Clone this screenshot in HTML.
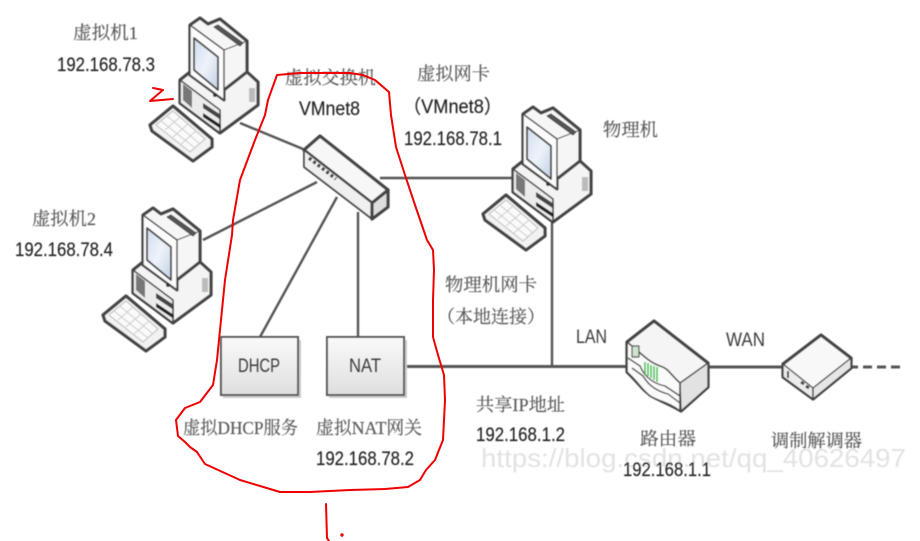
<!DOCTYPE html>
<html>
<head>
<meta charset="utf-8">
<style>
html,body{margin:0;padding:0;background:#fff;width:920px;height:541px;overflow:hidden}
svg{display:block}
.c{font-family:"Liberation Serif","Noto Serif CJK SC",serif;font-size:18px;fill:#5c5c5c;stroke:#5c5c5c;stroke-width:.2}
.n{font-family:"Liberation Sans",sans-serif;font-size:19px;fill:#222;stroke:#222;stroke-width:.15}
.l{font-family:"Liberation Sans",sans-serif;font-size:19px;fill:#3a3a3a}
.w{font-family:"Liberation Sans",sans-serif;font-size:26px;fill:#d8d8d8;opacity:.75}
</style>
</head>
<body>
<svg width="920" height="541" viewBox="0 0 920 541" xmlns="http://www.w3.org/2000/svg">
<defs>
<linearGradient id="box" x1="0" y1="0" x2="0" y2="1"><stop offset="0" stop-color="#fafafa"/><stop offset="1" stop-color="#dedede"/></linearGradient>
<linearGradient id="scr" x1="0" y1="0" x2="1" y2="1"><stop offset="0" stop-color="#cfdcee"/><stop offset=".5" stop-color="#eef3fa"/><stop offset="1" stop-color="#c3d0e6"/></linearGradient>
<filter id="b" x="-5%" y="-5%" width="110%" height="110%"><feGaussianBlur stdDeviation="0.55"/></filter>
<filter id="t" x="-5%" y="-5%" width="110%" height="110%"><feGaussianBlur stdDeviation="0.45"/></filter>
<g id="pc" stroke="#444" stroke-width="3.2" stroke-linejoin="round">
  <path d="M180 80L190 72L247 72L258 82V105L220 133L180 103Z" fill="#f4f4f4"/>
  <path d="M180 80L220 110V133L180 103Z" fill="#ececec" stroke-width="1.6"/>
  <path d="M190 25L200 18L208 24L220 19L247 41V72L224 90V100L190 75Z" fill="#f6f6f6"/>
  <path d="M190 25L224 50V100L190 75Z" fill="#fbfbfb" stroke-width="1.4"/>
  <path d="M224 50L247 41" fill="none" stroke-width="1"/>
  <path d="M194 38L218 57V90L194 70Z" fill="url(#scr)" stroke-width="1.8"/>
  <path d="M214 27L240 46L243 43L218 25Z" fill="#555" stroke-width="1"/>
  <rect x="249" y="88" width="6" height="14" fill="#bbb" stroke="none"/>
  <path d="M183 84L192 91V108L183 100Z" fill="#777" stroke="none"/>
  <path d="M203 103L221 115V120L203 108Z" fill="#444" stroke="none"/>
  <path d="M203 113L221 125V129L203 117Z" fill="#222" stroke="none"/>
  <circle cx="215" cy="95" r="2" fill="#333" stroke="none"/>
  <path d="M150 125L173 106L212 139V147L193 161L152 131Z" fill="#f2f2f2"/>
  <path d="M156 125L173 111L205 139L190 152Z" fill="#fafafa" stroke="#bbb" stroke-width="1"/>
  <path d="M161 121L195 148M167 116L200 144M165 130L180 117M173 137L188 124M181 144L196 131" fill="none" stroke="#ccc" stroke-width="1"/>
</g>
</defs>

<g filter="url(#b)">
  <g stroke="#555" stroke-width="2.4" fill="none">
    <path d="M240 123L303 149"/>
    <path d="M380 178H513"/>
    <path d="M203 240L317 182"/>
    <path d="M260 337L337 197"/>
    <path d="M358 337V212"/>
    <path d="M404 366.500H627" stroke-width="3"/>
    <path d="M552 220V366"/>
    <path d="M708 367H784" stroke-width="3"/>
    <path d="M850 367H858" stroke-width="3"/>
    <path d="M863 367H900" stroke-width="3" stroke-dasharray="9 5"/>
  </g>

  <use href="#pc"/>
  <use href="#pc" x="-47" y="190"/>
  <use href="#pc" x="333" y="89"/>

  <g stroke="#444" stroke-width="3.2" stroke-linejoin="round">
    <path d="M320 136L388 190L372 203L304 150Z" fill="#f7f7f7"/>
    <path d="M304 150L372 203V219L304 167Z" fill="#f0f0f0" stroke-width="1.8"/>
    <path d="M372 203L388 190V207L372 219Z" fill="#dedede"/>
    <path d="M309 158L336 179" stroke="#444" stroke-width="3.5" stroke-dasharray="3 2.500" fill="none"/>
  </g>

  <g stroke="#555" stroke-width="2">
    <rect x="221" y="337" width="77" height="58" fill="url(#box)"/>
    <rect x="327" y="337" width="77" height="58" fill="url(#box)"/>
  </g>
  <g stroke="#ccc" stroke-width="2" fill="none">
    <path d="M223 397H300V340"/>
    <path d="M329 397H406V340"/>
  </g>

  <g stroke="#444" stroke-width="3.2" stroke-linejoin="round">
    <path d="M654 321L708 363V387L681 411C670 404 662 402 652 396C640 388 640 384 627 372V342Z" fill="#f5f5f5"/>
    <path d="M680 383L708 363V387L681 411Z" fill="#e2e2e2" stroke-width="1.400"/>
    <path d="M627 342C640 352 648 362 660 366C668 368 670 374 680 383V411C668 402 660 402 650 396C640 388 640 384 627 372Z" fill="#fafafa" stroke-width="1.600"/>
    <path d="M628 358L640 366C645 378 655 384 665 386L680 396M632 368L643 376C650 388 660 392 668 394L680 403" fill="none" stroke-width="1.400"/>
    <rect x="632" y="346" width="7" height="11" fill="#cfe3cf" stroke-width="1.200"/>
    <path d="M645 362V374M648 363V376M651 365V378M654 366V380M657 367V382" stroke="#2fbf3f" stroke-width="1.500" fill="none"/>
  </g>

  <g stroke="#444" stroke-width="3.2" stroke-linejoin="round">
    <path d="M821 335L851 358V368L813 399L783 377V364Z" fill="#f8f8f8"/>
    <path d="M783 364L813 388V399L783 377Z" fill="#ececec" stroke-width="1.400"/>
    <path d="M813 388L851 358V368L813 399Z" fill="#e6e6e6" stroke-width="1.400"/>
    <path d="M788 371V378" stroke-width="2" fill="none"/>
    <path d="M801 382L804 384M806 386L809 388" stroke-width="3" fill="none"/>
  </g>
</g>

<g filter="url(#t)">
  <text class="c" x="73" y="39" textLength="65" lengthAdjust="spacingAndGlyphs">虚拟机1</text>
  <text class="n" x="57" y="71" textLength="98" lengthAdjust="spacingAndGlyphs">192.168.78.3</text>
  <text class="c" x="285" y="84" textLength="91" lengthAdjust="spacingAndGlyphs">虚拟交换机</text>
  <text class="n" x="299" y="115" textLength="61" lengthAdjust="spacingAndGlyphs">VMnet8</text>
  <text class="c" x="417" y="80" textLength="73" lengthAdjust="spacingAndGlyphs">虚拟网卡</text>
  <text class="n" x="403" y="113" textLength="99" lengthAdjust="spacingAndGlyphs" style="font-family:'Liberation Sans','Noto Sans CJK SC',sans-serif">（VMnet8）</text>
  <text class="n" x="404" y="145" textLength="98" lengthAdjust="spacingAndGlyphs">192.168.78.1</text>
  <text class="c" x="603" y="136" textLength="55" lengthAdjust="spacingAndGlyphs">物理机</text>
  <text class="c" x="32" y="225" textLength="64" lengthAdjust="spacingAndGlyphs">虚拟机2</text>
  <text class="n" x="15" y="256" textLength="98" lengthAdjust="spacingAndGlyphs">192.168.78.4</text>
  <text class="c" x="445" y="291" textLength="92" lengthAdjust="spacingAndGlyphs">物理机网卡</text>
  <text class="c" x="437" y="323" textLength="108" lengthAdjust="spacingAndGlyphs">（本地连接）</text>
  <text class="l" x="576" y="343" textLength="31" lengthAdjust="spacingAndGlyphs">LAN</text>
  <text class="l" x="726" y="346" textLength="39" lengthAdjust="spacingAndGlyphs">WAN</text>
  <text class="c" x="476" y="411" textLength="89" lengthAdjust="spacingAndGlyphs">共享IP地址</text>
  <text class="n" x="476" y="441" textLength="89" lengthAdjust="spacingAndGlyphs">192.168.1.2</text>
  <text class="c" x="640" y="445" textLength="56" lengthAdjust="spacingAndGlyphs">路由器</text>
  <text class="w" x="481" y="467" textLength="425" lengthAdjust="spacingAndGlyphs">https://blog.csdn.net/qq_40626497</text>
  <text class="n" x="623" y="476" textLength="88" lengthAdjust="spacingAndGlyphs">192.168.1.1</text>
  <text class="c" x="771" y="447" textLength="91" lengthAdjust="spacingAndGlyphs">调制解调器</text>
  <text class="l" x="238" y="372" textLength="42" lengthAdjust="spacingAndGlyphs">DHCP</text>
  <text class="l" x="349" y="372" textLength="32" lengthAdjust="spacingAndGlyphs">NAT</text>
  <text class="c" x="183" y="434" textLength="115" lengthAdjust="spacingAndGlyphs">虚拟DHCP服务</text>
  <text class="c" x="316" y="434" textLength="106" lengthAdjust="spacingAndGlyphs">虚拟NAT网关</text>
  <text class="n" x="316" y="465" textLength="98" lengthAdjust="spacingAndGlyphs">192.168.78.2</text>
</g>

<g fill="none" stroke="#f00000" stroke-width="2" stroke-linejoin="round" stroke-linecap="round">
  <path d="M277 75L300 73L350 73L363 75L375 80L389 92L391 115L396 147L405 175L415 205L427 240L433 250L434 270L433 300L433 337L438 355L444 375L445 400L443 440L435 460L426 470L420 480L408 487L385 489L350 490L310 492L280 492L240 480L205 464L197 452L190 447L185 442L178 436L176 420L185 408L200 402L213 385L217 360L220 330L225 280L232 235L233 220L240 180L255 140L265 115L268 100Z"/>
  <path d="M326 504L327 538L329 541"/>
  <path d="M153 88L163 90L150 101L173 99"/>
  <circle cx="342" cy="535" r="0.700"/>
</g>
</svg>
</body>
</html>
